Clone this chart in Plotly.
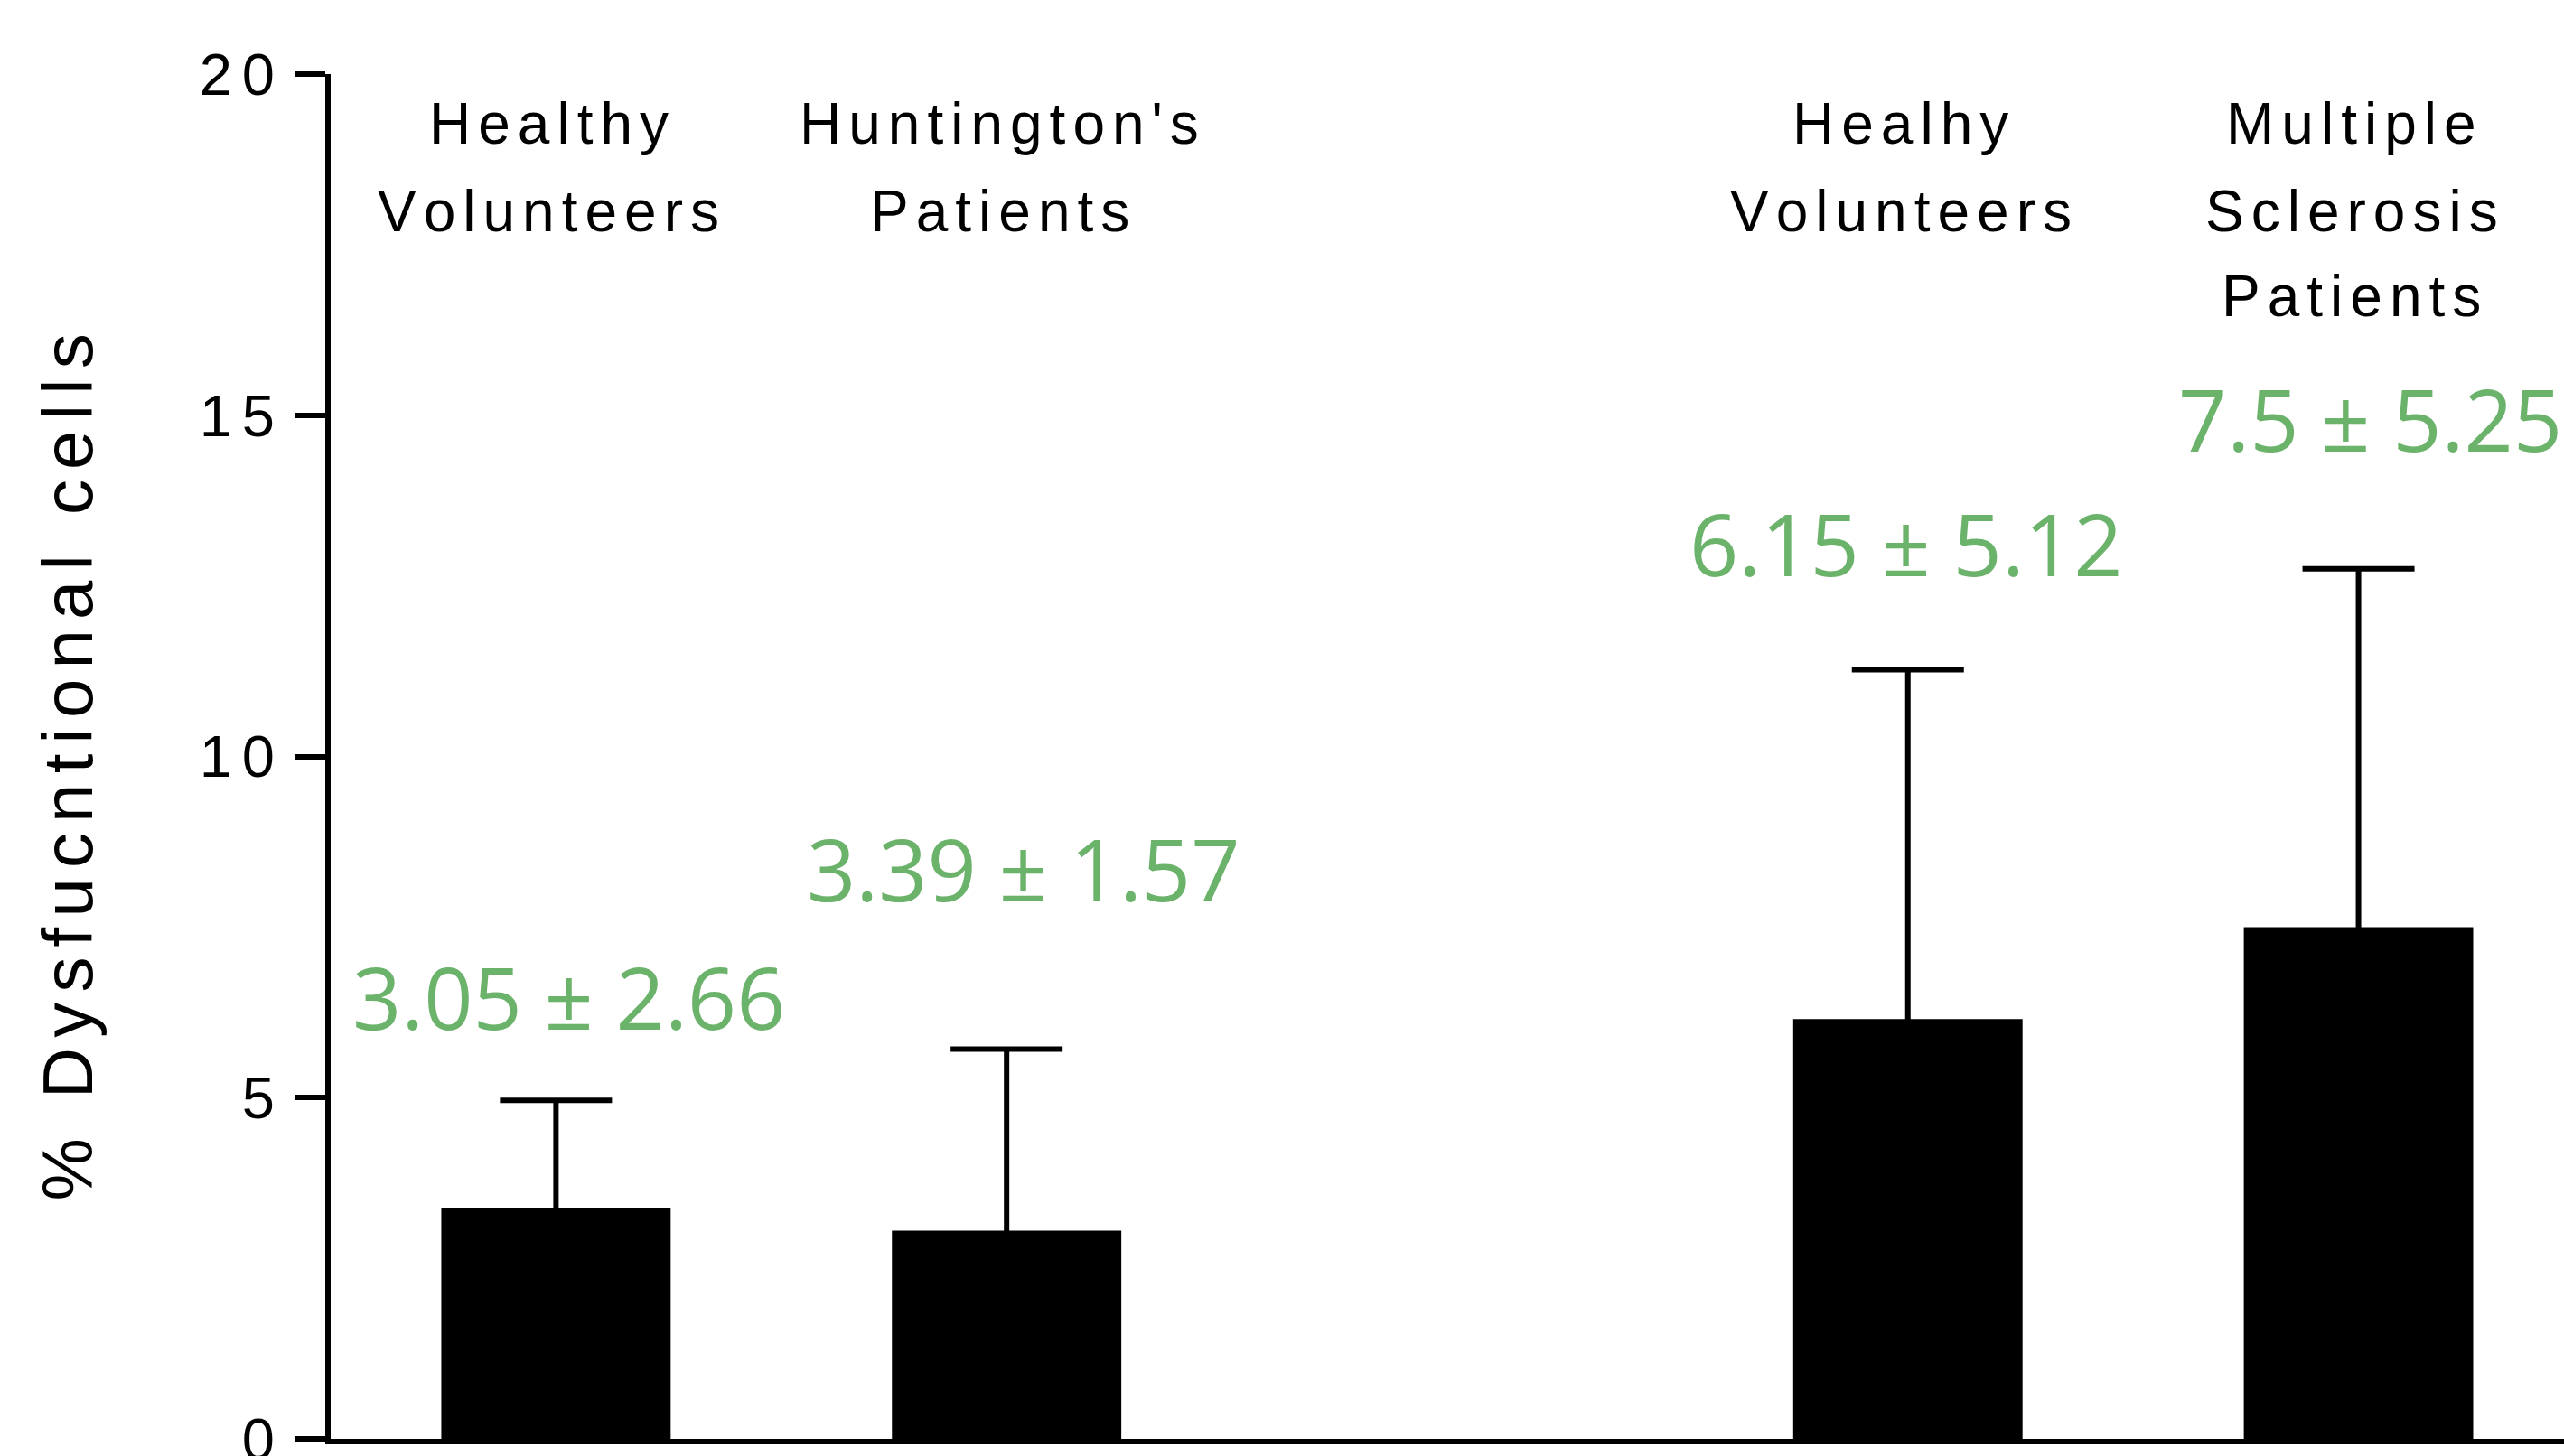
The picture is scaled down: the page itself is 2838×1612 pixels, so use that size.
import plotly.graph_objects as go

# Groups (multi-line labels), bar positions on the x axis, and summary statistics
group_lines = [
    ["Healthy", "Volunteers"],
    ["Huntington's", "Patients"],
    ["Healhy", "Volunteers"],
    ["Multiple", "Sclerosis", "Patients"],
]
x_pos = [1, 2, 4, 5]
means = [3.39, 3.05, 6.15, 7.5]
sds = [1.57, 2.66, 5.12, 5.25]
stat_labels = ["3.05 ± 2.66", "3.39 ± 1.57", "6.15 ± 5.12", "7.5 ± 5.25"]
y_ticks = [0, 5, 10, 15, 20]
y_title = "% Dysfucntional cells"

# Placement of the text annotations (data units on y, pixel shifts on x)
stat_label_y = [6.49, 8.37, 13.13, 14.96]
stat_label_dx = [15, 19, -2, 13]
line_y = [19.27, 17.99, 16.74]


def spaced(s, gap_px):
    """Join characters with a narrow space sized to give the wide tracking."""
    gap = '<span style="font-size:%dpx">\u2006</span>' % gap_px
    return gap.join(s)


LABEL_FONT = "Liberation Sans, Arial, sans-serif"
GREEN = "#6bb36b"

fig = go.Figure(
    go.Bar(
        x=x_pos,
        y=means,
        width=0.509,
        marker=dict(color="black", line=dict(width=0)),
        error_y=dict(
            type="data",
            array=sds,
            color="black",
            thickness=6,
            width=62,
        ),
        hoverinfo="skip",
    )
)

# group names above the bars
for i, lines in enumerate(group_lines):
    for j, line in enumerate(lines):
        fig.add_annotation(
            x=x_pos[i], y=line_y[j], text=spaced(line, 48),
            showarrow=False, xanchor="center", yanchor="middle", xshift=-8,
            font=dict(family=LABEL_FONT, size=64, color="black"),
        )

# mean ± SD labels
for i, txt in enumerate(stat_labels):
    fig.add_annotation(
        x=x_pos[i], y=stat_label_y[i], text=txt,
        showarrow=False, xanchor="center", yanchor="middle", xshift=stat_label_dx[i],
        font=dict(family="Open Sans, sans-serif", size=95, color=GREEN),
    )

# y axis title
fig.add_annotation(
    xref="paper", yref="paper", x=-0.1175, y=0.4917,
    text=spaced(y_title, 67), textangle=-90, showarrow=False,
    xanchor="center", yanchor="middle",
    font=dict(family=LABEL_FONT, size=78, color="black"),
)

fig.update_layout(
    width=2838,
    height=1612,
    margin=dict(l=366, r=0, t=82, b=19, pad=0, autoexpand=False),
    plot_bgcolor="white",
    paper_bgcolor="white",
    showlegend=False,
    xaxis=dict(
        range=[0.5, 5.456], automargin=False,
        showline=True, linewidth=6, linecolor="black",
        showticklabels=False, ticks="", showgrid=False, zeroline=False,
    ),
    yaxis=dict(
        range=[0, 20], automargin=False,
        showline=True, linewidth=6, linecolor="black",
        ticks="outside", ticklen=33, tickwidth=6, tickcolor="black",
        tickvals=y_ticks, ticktext=[spaced(str(v), 66) for v in y_ticks],
        tickfont=dict(family=LABEL_FONT, size=65, color="black"),
        ticklabeloverflow="allow", ticklabelstandoff=10,
        showgrid=False, zeroline=False,
    ),
)

fig.write_html("out.html")
